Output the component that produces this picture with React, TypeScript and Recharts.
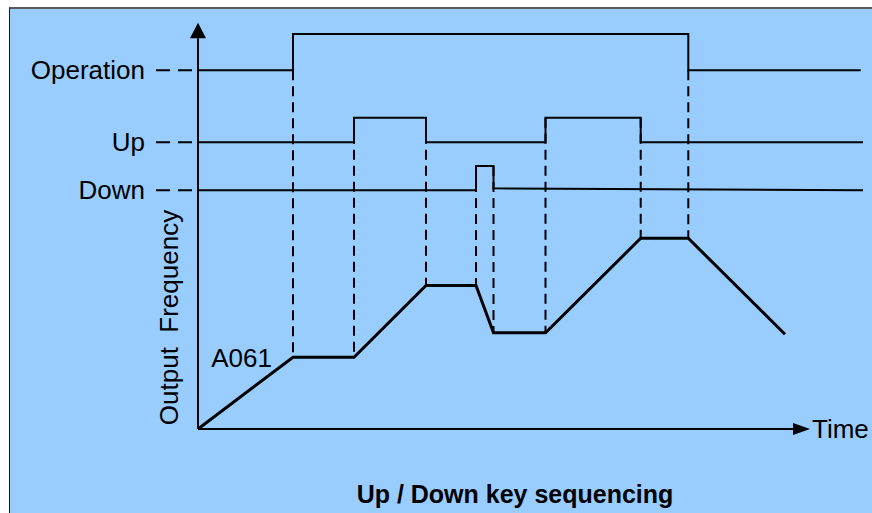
import React from 'react';
import { ComposedChart, Line, XAxis, YAxis, ReferenceLine, ReferenceDot } from 'recharts';

// ---------- data (time units / level units) ----------
const freqTimes = [0, 9.5, 15.6, 22.8, 27.8, 29.55, 34.75, 44.27, 49.03, 58.7];
const freqValues = [0, 7.17, 7.17, 14.35, 14.35, 9.63, 9.63, 19.07, 19.07, 9.47];

const operationTimes = [0, 9.5, 9.5, 49.03, 49.03, 66.27];
const operationLevels = [35.87, 35.87, 39.5, 39.5, 35.87, 35.87];

const upTimes = [0, 15.6, 15.6, 22.8, 22.8, 34.75, 34.75, 44.27, 44.27, 66.5];
const upLevels = [28.67, 28.67, 31.13, 31.13, 28.67, 28.67, 31.13, 31.13, 28.67, 28.67];

const downTimes = [0, 27.8, 27.8, 29.55, 29.55, 66.5];
const downLevels = [23.87, 23.87, 26.3, 26.3, 24.07, 23.87];

// dashed guide lines: time, from level, to level
const guideTimes = [9.5, 15.6, 22.8, 27.8, 29.55, 34.75, 44.27, 49.03];
const guideTop = [35.87, 31.13, 31.13, 26.3, 26.3, 31.13, 31.13, 35.87];
const guideBottom = [7.17, 7.17, 14.35, 14.35, 9.63, 9.63, 19.07, 19.07];

const signalNames = ['Operation', 'Up', 'Down'];
const signalBase = [35.87, 28.67, 23.87];
const freqLabel = 'A061';
const xTitle = 'Time';
const yTitle = 'Output\u00a0\u00a0Frequency';
const chartTitle = 'Up / Down key sequencing';

const xDomain = [-19.8, 67.4];
const yDomain = [-8.4, 42.9];
const xArrowTip = 61.2;
const xArrowBase = 59.5;
const yArrowTip = 40.63;
const yArrowBase = 39.07;
const labelDashStart = -4.2;

const FONT = '"Liberation Sans", Arial, Helvetica, sans-serif';

const toData = (ts: number[], vs: number[]) => ts.map((t, i) => ({ t, v: vs[i] }));
const freqData = toData(freqTimes, freqValues);
const operationData = toData(operationTimes, operationLevels);
const upData = toData(upTimes, upLevels);
const downData = toData(downTimes, downLevels);

const textStyle = { fontFamily: FONT, fontSize: 26, fill: '#000' } as const;

const lineProps = {
  dataKey: 'v',
  type: 'linear' as const,
  stroke: '#000',
  dot: false,
  activeDot: false,
  isAnimationActive: false,
};

export default function App() {
  return (
    <div style={{ position: 'absolute', left: 0, top: 0, width: 872, height: 513, background: '#fff', overflow: 'hidden' }}>
      <div
        style={{
          position: 'absolute',
          left: 9,
          top: 7,
          width: 872 - 9,
          height: 513 - 7,
          background: '#99ccff',
          borderTop: '2px solid #5a5a5a',
          borderLeft: '1px solid #1a1a1a',
          boxSizing: 'border-box',
        }}
      />
      <div style={{ position: 'absolute', left: 0, top: 0 }}>
        <ComposedChart width={872} height={513} margin={{ top: 0, right: 0, bottom: 0, left: 0 }}>
          <XAxis type="number" dataKey="t" domain={xDomain} hide allowDataOverflow />
          <YAxis type="number" domain={yDomain} hide allowDataOverflow />

          {/* axes */}
          <ReferenceLine segment={[{ x: 0, y: 0 }, { x: 0, y: yArrowBase }]} stroke="#000" strokeWidth={2} />
          <ReferenceLine segment={[{ x: 0, y: 0 }, { x: xArrowBase, y: 0 }]} stroke="#000" strokeWidth={2} />
          <ReferenceDot
            x={0}
            y={yArrowTip}
            r={0}
            shape={(p: any) => (
              <polygon points={`${p.cx},${p.cy} ${p.cx - 8},${p.cy + 15.6} ${p.cx + 8},${p.cy + 15.6}`} fill="#000" />
            )}
          />
          <ReferenceDot
            x={xArrowTip}
            y={0}
            r={0}
            shape={(p: any) => (
              <polygon points={`${p.cx},${p.cy} ${p.cx - 17},${p.cy - 6} ${p.cx - 17},${p.cy + 6}`} fill="#000" />
            )}
          />

          {/* dashed guides */}
          {guideTimes.map((t, i) => (
            <ReferenceLine
              key={'g' + i}
              segment={[{ x: t, y: guideTop[i] }, { x: t, y: guideBottom[i] }]}
              stroke="#000"
              strokeWidth={2}
              strokeDasharray="10 6"
            />
          ))}

          {/* label dashes + names */}
          {signalNames.map((name, i) => (
            <ReferenceLine
              key={'d' + i}
              segment={[{ x: labelDashStart, y: signalBase[i] }, { x: 0, y: signalBase[i] }]}
              stroke="#000"
              strokeWidth={2}
              strokeDasharray="14 8"
            />
          ))}
          {signalNames.map((name, i) => (
            <ReferenceDot
              key={'n' + i}
              x={0}
              y={signalBase[i]}
              r={0}
              shape={(p: any) => (
                <text x={p.cx - 53} y={p.cy + 9} textAnchor="end" style={textStyle}>
                  {name}
                </text>
              )}
            />
          ))}

          {/* signals */}
          <Line data={operationData} {...lineProps} strokeWidth={2} />
          <Line data={upData} {...lineProps} strokeWidth={2} />
          <Line data={downData} {...lineProps} strokeWidth={2} />
          <Line data={freqData} {...lineProps} strokeWidth={3} />

          {/* A061 */}
          <ReferenceDot
            x={freqTimes[1]}
            y={freqValues[1]}
            r={0}
            shape={(p: any) => (
              <text x={p.cx - 21} y={p.cy + 10} textAnchor="end" style={textStyle}>
                {freqLabel}
              </text>
            )}
          />
          {/* Time */}
          <ReferenceDot
            x={xArrowTip}
            y={0}
            r={0}
            shape={(p: any) => (
              <text x={p.cx + 2} y={p.cy + 9} textAnchor="start" style={textStyle}>
                {xTitle}
              </text>
            )}
          />
          {/* Output Frequency */}
          <ReferenceDot
            x={0}
            y={11.15}
            r={0}
            shape={(p: any) => (
              <text
                x={p.cx - 20}
                y={p.cy}
                textAnchor="middle"
                transform={`rotate(-90, ${p.cx - 20}, ${p.cy})`}
                style={textStyle}
              >
                {yTitle}
              </text>
            )}
          />
        </ComposedChart>
      </div>
      <div
        style={{
          position: 'absolute',
          left: 315,
          width: 400,
          top: 481,
          textAlign: 'center',
          fontFamily: FONT,
          fontSize: 25,
          lineHeight: '26px',
          fontWeight: 'bold',
          color: '#000',
        }}
      >
        {chartTitle}
      </div>
    </div>
  );
}
